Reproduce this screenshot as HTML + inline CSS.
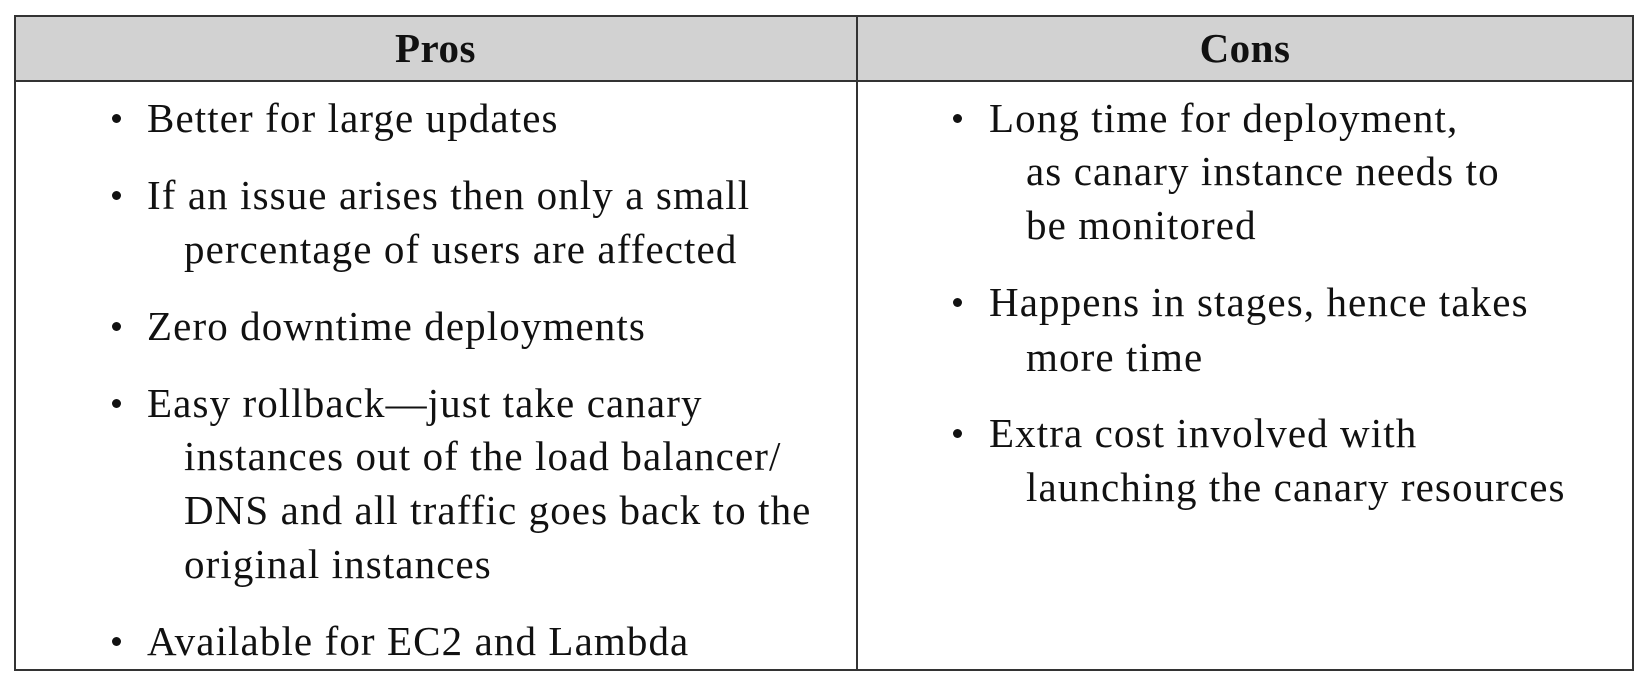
<!DOCTYPE html>
<html><head><meta charset="utf-8"><style>
body{margin:0;width:1650px;height:688px;background:#fff;position:relative;overflow:hidden;font-family:"Liberation Serif",serif;color:#111}
.b{position:absolute;background:#333}
.h{position:absolute;top:16px;height:65px;background:#d2d2d2}
.t{position:absolute;height:46px;line-height:46px;font-size:41px;letter-spacing:1.1px;white-space:nowrap}
.hd{position:absolute;top:16px;height:65px;line-height:65px;font-size:41px;letter-spacing:0.5px;font-weight:bold;text-align:center}
.d{position:absolute;width:9px;height:9px;border-radius:50%;background:#111}
</style></head><body>
<div class="h" style="left:15px;width:1618px"></div>
<div class="b" style="left:15px;top:15px;width:1619px;height:2px"></div>
<div class="b" style="left:15px;top:80px;width:1619px;height:2px"></div>
<div class="b" style="left:15px;top:669px;width:1619px;height:2px"></div>
<div class="b" style="left:14px;top:15px;width:2px;height:656px"></div>
<div class="b" style="left:856px;top:15px;width:2px;height:656px"></div>
<div class="b" style="left:1632px;top:15px;width:2px;height:656px"></div>
<div class="hd" style="left:15px;width:841px">Pros</div>
<div class="hd" style="left:857px;width:776px">Cons</div>

<div class="d" style="left:112px;top:114px"></div>
<div class="t" style="left:147px;top:95px">Better for large updates</div>
<div class="d" style="left:112px;top:191px"></div>
<div class="t" style="left:147px;top:172px">If an issue arises then only a small</div>
<div class="t" style="left:184px;top:226px">percentage of users are affected</div>
<div class="d" style="left:112px;top:322px"></div>
<div class="t" style="left:147px;top:303px">Zero downtime deployments</div>
<div class="d" style="left:112px;top:399px"></div>
<div class="t" style="left:147px;top:380px">Easy rollback—just take canary</div>
<div class="t" style="left:184px;top:433px">instances out of the load balancer/</div>
<div class="t" style="left:184px;top:487px">DNS and all traffic goes back to the</div>
<div class="t" style="left:184px;top:541px">original instances</div>
<div class="d" style="left:112px;top:637px"></div>
<div class="t" style="left:147px;top:618px">Available for EC2 and Lambda</div>

<div class="d" style="left:953px;top:114px"></div>
<div class="t" style="left:989px;top:95px">Long time for deployment,</div>
<div class="t" style="left:1026px;top:148px">as canary instance needs to</div>
<div class="t" style="left:1026px;top:202px">be monitored</div>
<div class="d" style="left:953px;top:298px"></div>
<div class="t" style="left:989px;top:279px">Happens in stages, hence takes</div>
<div class="t" style="left:1026px;top:334px">more time</div>
<div class="d" style="left:953px;top:429px"></div>
<div class="t" style="left:989px;top:410px">Extra cost involved with</div>
<div class="t" style="left:1026px;top:464px">launching the canary resources</div>
</body></html>
